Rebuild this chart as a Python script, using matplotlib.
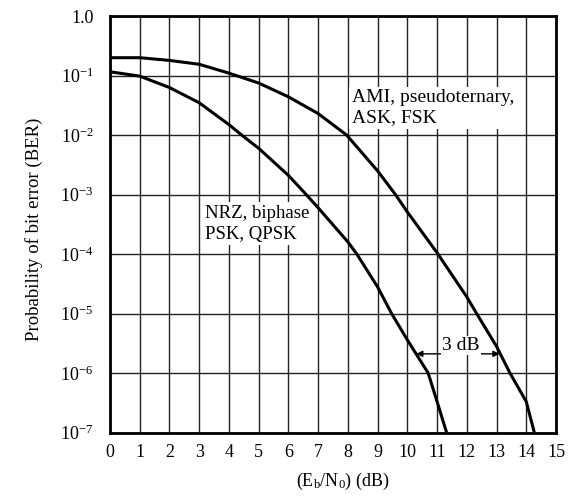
import matplotlib
matplotlib.use("Agg")
import matplotlib.pyplot as plt

plt.rcParams['font.family'] = ['Liberation Serif', 'DejaVu Serif']
plt.rcParams['mathtext.fontset'] = 'custom'
plt.rcParams['mathtext.rm'] = 'Liberation Serif'
plt.rcParams['mathtext.it'] = 'Liberation Serif:italic'

# curves
ebn0_ami = [0, 1, 2, 3, 4, 5, 6, 7, 7.96, 9, 9.6, 10, 11, 12, 12.33, 13, 13.45, 14, 14.27]
ber_ami = [0.2, 0.2, 0.18, 0.155, 0.11, 0.075, 0.044, 0.023, 0.01, 2.5e-3, 1e-3, 5.1e-4,
           1.05e-4, 1.9e-5, 1e-5, 2.8e-6, 1e-6, 3.3e-7, 1e-7]

ebn0_nrz = [0, 1, 2, 3, 4, 4.43, 5, 6, 6.6, 7, 8, 8.3, 9, 9.47, 10, 10.7, 11, 11.32]
ber_nrz = [0.116, 0.098, 0.063, 0.035, 0.015, 0.01, 6e-3, 2.1e-3, 1e-3, 6e-4, 1.6e-4, 1e-4,
           2.8e-5, 1e-5, 3.6e-6, 1e-6, 3.3e-7, 1e-7]

x_ticks = list(range(0, 16))
y_ticks = [1e-7, 1e-6, 1e-5, 1e-4, 1e-3, 1e-2, 1e-1, 1.0]
y_labels = [r'$\mathregular{10^{-7}}$', r'$\mathregular{10^{-6}}$', r'$\mathregular{10^{-5}}$',
            r'$\mathregular{10^{-4}}$', r'$\mathregular{10^{-3}}$', r'$\mathregular{10^{-2}}$',
            r'$\mathregular{10^{-1}}$', '1.0']

fig = plt.figure(figsize=(5.69, 4.96), dpi=100)
ax = fig.add_axes([0.1933, 0.128, 0.7839, 0.8395])

# lines sit above the white label boxes
ax.plot(ebn0_ami, ber_ami, color='black', lw=2.2, solid_capstyle='butt', zorder=5)
ax.plot(ebn0_nrz, ber_nrz, color='black', lw=2.2, solid_capstyle='butt', zorder=5)

ax.set_yscale('log')
ax.set_xlim(0, 15)
ax.set_ylim(1e-7, 1.0)
ax.set_xticks(x_ticks)
ax.set_yticks(y_ticks)
ax.set_yticklabels(y_labels)
ax.minorticks_off()
ax.tick_params(length=0, labelsize=13)
ax.tick_params(axis='x', pad=8)
ax.tick_params(axis='y', pad=12)
ax.grid(True, color='#222222', lw=1.0)
for s in ax.spines.values():
    s.set_linewidth(2)
    s.set_zorder(6)

box = dict(facecolor='white', edgecolor='none', pad=2)
ax.text(8.13, 10**-1.23, 'AMI, pseudoternary,\nASK, FSK', fontsize=14, va='top', ha='left',
        linespacing=1.2, bbox=box, zorder=3)
ax.text(3.2, 10**-3.18, 'NRZ, biphase\nPSK, QPSK', fontsize=13.5, va='top', ha='left',
        linespacing=1.25, bbox=box, zorder=3)

ax.annotate('', xy=(10.3, 2.1e-6), xytext=(13.1, 2.1e-6),
            arrowprops=dict(arrowstyle='<|-|>', color='black', lw=1, mutation_scale=9,
                            shrinkA=0, shrinkB=0))
ax.text(11.8, 2.9e-6, '3 dB', fontsize=14, ha='center', va='center',
        bbox=dict(facecolor='white', edgecolor='none', pad=1))

ax.set_xlabel(r'($\mathregular{E_b/N_0}$) (dB)', fontsize=13)
ax.xaxis.set_label_coords(0.522, -0.092)
ax.set_ylabel('Probability of bit error (BER)', fontsize=13.5)
ax.yaxis.set_label_coords(-0.151, 0.488)

fig.savefig('out.png', dpi=100)
